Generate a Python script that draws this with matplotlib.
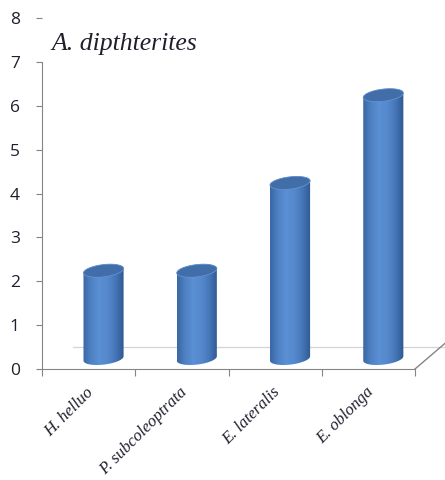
import numpy as np
import matplotlib
matplotlib.use("Agg")
import matplotlib.pyplot as plt
from matplotlib.path import Path
from matplotlib.patches import PathPatch, Polygon
from matplotlib.colors import LinearSegmentedColormap

# Data
species = ["H. helluo", "P. subcoleoptrata", "E. lateralis", "E. oblonga"]
values = [2, 2, 4, 6]
y_ticks = [0, 1, 2, 3, 4, 5, 6, 7, 8]
title = "A. dipthterites"

# Pseudo-3D geometry (axis units)
depth_dx, depth_dy = 0.33, 0.5      # back floor offset
cyl_dx, cyl_dy = 0.16, 0.24         # cylinder sits mid-depth
cyl_half_w = 0.215
ell_half_h = 0.14
ell_tilt = 0.05

fig = plt.figure(figsize=(4.45, 4.8), dpi=100)
ax = fig.add_axes([42 / 445, 111 / 480, 373 / 445, 351 / 480])
ax.set_xlim(0, len(species))
ax.set_ylim(0, 8)

grey = "#858585"

# Floor lines
ax.plot([depth_dx, len(species) + depth_dx], [depth_dy, depth_dy],
        color="#d4d4d4", lw=0.9, clip_on=False, zorder=1)
ax.plot([len(species), len(species) + 0.33], [0, 0.6],
        color=grey, lw=1.0, clip_on=False, zorder=1)

body_cmap = LinearSegmentedColormap.from_list(
    "body", ["#3a66a3", "#4f82c4", "#5b90d4", "#5588cc", "#4576b8", "#2f5890"])
grad = body_cmap(np.linspace(0, 1, 200))[None, :, :]


def ellipse_pts(cx, cy, t):
    return (cx + cyl_half_w * np.cos(t),
            cy + ell_half_h * np.sin(t) + ell_tilt * np.cos(t))


for i, v in enumerate(values):
    cx = i + 0.5 + cyl_dx
    base = cyl_dy
    top = v + cyl_dy
    x0, x1 = cx - cyl_half_w, cx + cyl_half_w

    # body outline: bottom front half-ellipse, right side up, top front half, back down
    t_bot = np.linspace(np.pi, 2 * np.pi, 60)
    bx, by = ellipse_pts(cx, base, t_bot)
    t_top = np.linspace(0, -np.pi, 60)
    tx, ty = ellipse_pts(cx, top, t_top)
    verts = np.vstack([np.column_stack([bx, by]), np.column_stack([tx, ty])])
    verts = np.vstack([verts, verts[:1]])
    codes = [Path.MOVETO] + [Path.LINETO] * (len(verts) - 2) + [Path.CLOSEPOLY]
    body = PathPatch(Path(verts, codes), facecolor="none", edgecolor="none",
                     transform=ax.transData)
    ax.add_patch(body)
    im = ax.imshow(grad, extent=[x0, x1, base - 0.3, top + 0.3],
                   aspect="auto", zorder=3, interpolation="bilinear")
    im.set_clip_path(body)

    # top cap
    t_all = np.linspace(0, 2 * np.pi, 120)
    ex, ey = ellipse_pts(cx, top, t_all)
    cap = Polygon(np.column_stack([ex, ey]), closed=True,
                  facecolor="#416ea9", edgecolor="#5a8bca", lw=0.6, zorder=4)
    ax.add_patch(cap)

ax.set_xlim(0, len(species))
ax.set_ylim(0, 8)

# Axes styling
for s in ["top", "right"]:
    ax.spines[s].set_visible(False)
ax.spines["left"].set_color(grey)
ax.spines["bottom"].set_color(grey)
ax.spines["left"].set_bounds(0, 7)

ax.set_yticks(y_ticks)
ax.set_yticklabels([str(t) for t in y_ticks], fontsize=12.5,
                   fontfamily="Open Sans", color="#1f1f2e")
ax.tick_params(axis="y", direction="out", length=4, color=grey, pad=12)

ax.set_xticks(np.arange(len(species) + 1))
ax.set_xticklabels([])
ax.tick_params(axis="x", direction="out", length=5, color=grey)

for i, name in enumerate(species):
    ax.text(i + 0.47, -0.35, name, rotation=45, ha="right", va="top",
            rotation_mode="anchor", fontsize=12, fontstyle="italic",
            fontfamily="Liberation Serif", color="#1f1f2e")

fig.text(51 / 445, 1 - 44 / 480, title, fontsize=18.5, fontstyle="italic",
         fontfamily="Liberation Serif", color="#1f1f2e", va="center", ha="left")

fig.savefig("out.png", dpi=100)
